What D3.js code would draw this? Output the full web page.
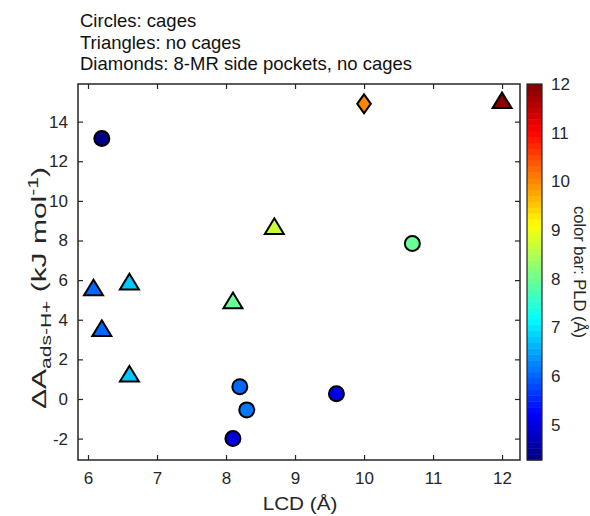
<!DOCTYPE html>
<html>
<head>
<meta charset="utf-8">
<script src="https://cdn.jsdelivr.net/npm/d3@7"></script>
<style>
  html, body { margin: 0; padding: 0; background: #fff; }
  svg { display: block; font-family: "Liberation Sans", Arial, sans-serif; }
</style>
</head>
<body>
<svg id="chart" width="590" height="516"></svg>
<script>
// Zeolite frameworks: largest cavity diameter vs. adsorption free energy shift,
// coloured by pore-limiting diameter.
const circleLCD = [6.2, 8.2, 8.3, 8.1, 9.6, 10.7];
const circleDA  = [13.15, 0.62, -0.55, -2.0, 0.27, 7.85];
const circlePLD = [4.28, 6.05, 6.1, 4.95, 5.1, 7.95];

const triLCD = [6.08, 6.2, 6.6, 6.6, 8.1, 8.7, 12.0];
const triDA  = [5.5, 3.45, 5.8, 1.15, 4.85, 8.6, 14.95];
const triPLD = [6.0, 6.0, 6.75, 6.75, 7.9, 8.7, 12.0];

const diaLCD = [10.0];
const diaDA  = [14.9];
const diaPLD = [10.05];

const xTicks = [6, 7, 8, 9, 10, 11, 12];
const yTicks = [-2, 0, 2, 4, 6, 8, 10, 12, 14];
const cTicks = [5, 6, 7, 8, 9, 10, 11, 12];
const titleLines = ["Circles: cages", "Triangles: no cages", "Diamonds: 8-MR side pockets, no cages"];

const svg = d3.select("#chart");
const axisColor = "#262626";
const textColor = "#262626";
const fontFamily = "Liberation Sans, Arial, sans-serif";

const plot = { left: 78, right: 520, top: 84, bottom: 460 };
const bar = { left: 527, right: 542 };

const x = d3.scaleLinear().domain([5.855, 12.26]).range([plot.left, plot.right]);
const y = d3.scaleLinear().domain([-3.08, 15.9]).range([plot.bottom, plot.top]);
const pldMin = 4.28, pldMax = 12;
const c = d3.scaleLinear().domain([pldMin, pldMax]).range([plot.bottom, plot.top]);

// MATLAB-style jet colormap with 64 discrete levels
const nLevels = 64;
function jet(t) {
  const cl = v => Math.max(0, Math.min(1, v));
  const r = cl(1.5 - Math.abs(4 * t - 3));
  const g = cl(1.5 - Math.abs(4 * t - 2));
  const b = cl(1.5 - Math.abs(4 * t - 1));
  return d3.rgb(r * 255, g * 255, b * 255).formatHex();
}
function pldColor(v) {
  const t = (v - pldMin) / (pldMax - pldMin);
  const idx = Math.max(0, Math.min(nLevels - 1, Math.floor(t * nLevels)));
  return jet((idx + 0.5) / nLevels);
}

// title lines
svg.append("g").selectAll("text").data(titleLines).join("text")
  .attr("x", 80).attr("y", (d, i) => 27 + i * 21.5)
  .attr("font-size", 18.5).attr("fill", "#111")
  .text(d => d);

// axes with inward ticks on all four sides
const tickLen = 5;
const fmt = d => String(d);
const gx = svg.append("g").attr("transform", `translate(0,${plot.bottom})`)
  .call(d3.axisBottom(x).tickValues(xTicks).tickSize(-tickLen).tickPadding(12).tickFormat(fmt));
const gxTop = svg.append("g").attr("transform", `translate(0,${plot.top})`)
  .call(d3.axisTop(x).tickValues(xTicks).tickSize(-tickLen).tickFormat(""));
const gy = svg.append("g").attr("transform", `translate(${plot.left},0)`)
  .call(d3.axisLeft(y).tickValues(yTicks).tickSize(-tickLen).tickPadding(10).tickFormat(fmt));
const gyR = svg.append("g").attr("transform", `translate(${plot.right},0)`)
  .call(d3.axisRight(y).tickValues(yTicks).tickSize(-tickLen).tickFormat(""));
[gx, gxTop, gy, gyR].forEach(g => {
  g.select(".domain").remove();
  g.selectAll(".tick line").attr("stroke", axisColor).attr("stroke-width", 1.2);
  g.selectAll(".tick text").attr("fill", textColor).attr("font-size", 17)
    .attr("font-family", fontFamily);
});

svg.append("rect")
  .attr("x", plot.left).attr("y", plot.top)
  .attr("width", plot.right - plot.left).attr("height", plot.bottom - plot.top)
  .attr("fill", "none").attr("stroke", axisColor).attr("stroke-width", 1.5);

// axis titles
svg.append("text")
  .attr("transform", `translate(${(plot.left + plot.right) / 2 + 1},510) scale(1.15,1)`)
  .attr("text-anchor", "middle").attr("font-size", 18).attr("fill", textColor)
  .text("LCD (Å)");

const yl = svg.append("text")
  .attr("transform", `translate(46,288) rotate(-90) scale(1.5,1)`)
  .attr("text-anchor", "middle").attr("font-size", 20).attr("fill", textColor);
yl.append("tspan").text("ΔA");
yl.append("tspan").attr("font-size", 14).attr("dy", 5).text("ads-H+");
yl.append("tspan").attr("dy", -5).text(" (kJ mol");
yl.append("tspan").attr("font-size", 14).attr("dy", -8).text("-1");
yl.append("tspan").attr("dy", 8).text(")");

// markers
const markerStroke = { stroke: "#000", width: 2 };
const circles = circleLCD.map((v, i) => ({ x: v, y: circleDA[i], p: circlePLD[i] }));
const tris = triLCD.map((v, i) => ({ x: v, y: triDA[i], p: triPLD[i] }));
const dias = diaLCD.map((v, i) => ({ x: v, y: diaDA[i], p: diaPLD[i] }));

const marks = svg.append("g");
marks.selectAll("circle").data(circles).join("circle")
  .attr("cx", d => x(d.x)).attr("cy", d => y(d.y)).attr("r", 7.5)
  .attr("fill", d => pldColor(d.p))
  .attr("stroke", markerStroke.stroke).attr("stroke-width", markerStroke.width);

const triPath = "M0,-9.3 L9.5,6.3 L-9.5,6.3 Z";
marks.selectAll("path.tri").data(tris).join("path").attr("class", "tri")
  .attr("d", triPath)
  .attr("transform", d => `translate(${x(d.x)},${y(d.y) - 1})`)
  .attr("fill", d => pldColor(d.p))
  .attr("stroke", markerStroke.stroke).attr("stroke-width", markerStroke.width)
  .attr("stroke-linejoin", "miter");

const diaPath = "M0,-9.5 L6.8,0 L0,9.5 L-6.8,0 Z";
marks.selectAll("path.dia").data(dias).join("path").attr("class", "dia")
  .attr("d", diaPath)
  .attr("transform", d => `translate(${x(d.x)},${y(d.y)})`)
  .attr("fill", d => pldColor(d.p))
  .attr("stroke", markerStroke.stroke).attr("stroke-width", markerStroke.width);

// colour bar
const step = (pldMax - pldMin) / nLevels;
const levels = d3.range(nLevels);
svg.append("g").selectAll("rect").data(levels).join("rect")
  .attr("x", bar.left)
  .attr("y", i => c(pldMin + (i + 1) * step))
  .attr("width", bar.right - bar.left)
  .attr("height", i => c(pldMin + i * step) - c(pldMin + (i + 1) * step) + 0.5)
  .attr("fill", i => jet((i + 0.5) / nLevels));

svg.append("rect")
  .attr("x", bar.left).attr("y", plot.top)
  .attr("width", bar.right - bar.left).attr("height", plot.bottom - plot.top)
  .attr("fill", "none").attr("stroke", axisColor).attr("stroke-width", 1.2);

const gc = svg.append("g").attr("transform", `translate(${bar.right},0)`)
  .call(d3.axisRight(c).tickValues(cTicks).tickSize(0).tickPadding(9).tickFormat(fmt));
gc.select(".domain").remove();
gc.selectAll(".tick text").attr("fill", textColor).attr("font-size", 17)
  .attr("font-family", fontFamily);

svg.append("text")
  .attr("transform", `translate(574,${(plot.top + plot.bottom) / 2}) rotate(90)`)
  .attr("text-anchor", "middle").attr("font-size", 16.5).attr("fill", textColor)
  .text("color bar: PLD (Å)");
</script>
</body>
</html>
